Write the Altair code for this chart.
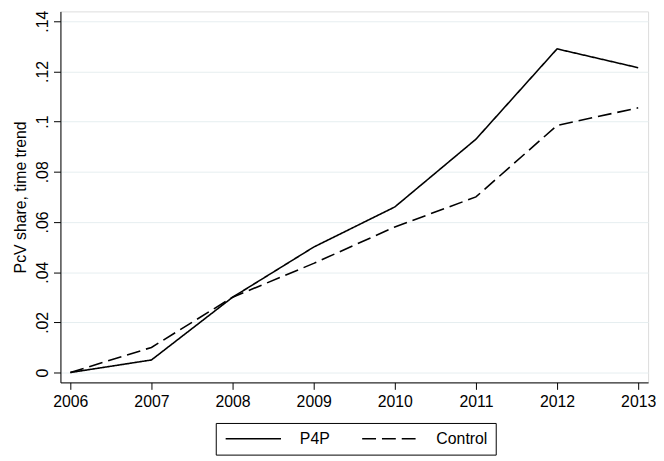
import altair as alt
import pandas as pd

years = [2006, 2007, 2008, 2009, 2010, 2011, 2012, 2013]
p4p = [0.0, 0.005, 0.030, 0.050, 0.066, 0.093, 0.129, 0.1215]
control = [0.0, 0.010, 0.030, 0.0435, 0.058, 0.070, 0.0985, 0.1055]
series_names = ["P4P", "Control"]
y_ticks = [0, 0.02, 0.04, 0.06, 0.08, 0.10, 0.12, 0.14]

rows = []
for name, vals in zip(series_names, [p4p, control]):
    for yr, v in zip(years, vals):
        rows.append({"year": yr, "value": v, "group": name})
df = pd.DataFrame(rows)

font = "Liberation Sans"
fs = 16

chart = alt.Chart(df).mark_line(color="black", strokeWidth=1.6).encode(
    x=alt.X("year:Q",
            scale=alt.Scale(domain=[2005.878, 2013.122], nice=False, zero=False),
            axis=alt.Axis(values=years, format="d", title=None, grid=False,
                          tickSize=7, labelPadding=4, labelFontSize=fs,
                          labelFont=font, labelColor="black", domainColor="black",
                          tickColor="black", labelFlush=False)),
    y=alt.Y("value:Q",
            scale=alt.Scale(domain=[-0.00394, 0.14394], nice=False, zero=False),
            axis=alt.Axis(values=y_ticks, title="PcV share, time trend",
                          labelExpr="datum.value == 0 ? '0' : slice(format(datum.value, '.2~f'), 1)",
                          labelAngle=270, labelAlign="center", labelBaseline="bottom",
                          tickSize=7, labelPadding=3, labelFontSize=fs, labelFont=font,
                          labelColor="black", domainColor="black", tickColor="black",
                          titleFont=font, titleFontSize=fs, titleFontWeight="normal",
                          titleColor="black", titlePadding=6,
                          grid=True, gridColor="#e6eef0", gridWidth=1, labelFlush=False)),
    strokeDash=alt.StrokeDash("group:N",
                              scale=alt.Scale(domain=series_names, range=[[1, 0], [14, 6]]),
                              legend=alt.Legend(title=None, orient="none", legendX=157, legendY=416,
                                                direction="horizontal", symbolType="M-1,0H8.33",
                                                symbolSize=144, symbolStrokeWidth=1.6,
                                                symbolStrokeColor="black",
                                                labelFont=font, labelFontSize=fs, labelColor="black",
                                                strokeColor="black", padding=8, columnPadding=28,
                                                labelOffset=61)),
).properties(
    width=594, height=375,
    autosize=alt.AutoSizeParams(type="none"),
    padding={"left": 53, "top": 1, "right": 8, "bottom": 76},
).configure_view(stroke=None).configure(background="white")

chart.save("out.html", embed_options={"renderer": "svg", "actions": False})
